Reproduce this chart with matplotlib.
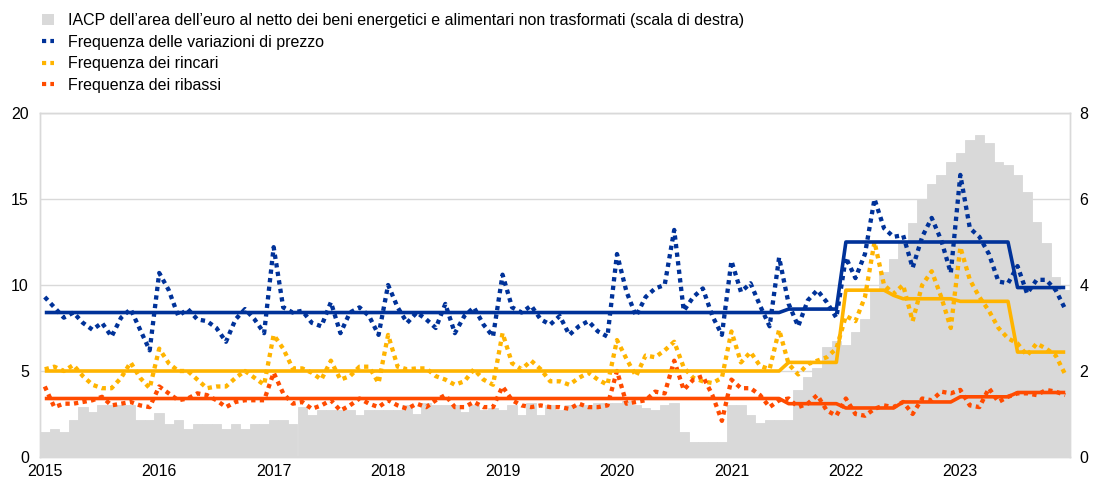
import numpy as np
import matplotlib
matplotlib.use("Agg")
import matplotlib.pyplot as plt
from matplotlib.lines import Line2D
from matplotlib.patches import Patch

plt.rcParams['font.family'] = ['Liberation Sans', 'DejaVu Sans']

years = [2015, 2016, 2017, 2018, 2019, 2020, 2021, 2022, 2023]

# Core HICP (annual %, right scale), monthly Jan 2015 - Dec 2023
core_hicp = [
    0.57, 0.65, 0.57, 0.86, 1.17, 1.05, 1.20, 1.20, 1.20, 1.20, 0.86, 0.86,
    1.02, 0.77, 0.86, 0.65, 0.77, 0.77, 0.77, 0.65, 0.77, 0.65, 0.77, 0.77,
    0.86, 0.86, 0.77, 1.17, 0.98, 1.10, 1.10, 1.10, 1.10, 0.98, 1.09, 1.09,
    1.10, 1.10, 1.20, 1.00, 1.25, 1.20, 1.20, 1.20, 1.05, 1.20, 1.10, 1.15,
    1.10, 1.20, 0.98, 1.25, 0.98, 1.20, 1.10, 1.20, 1.20, 1.20, 1.25, 1.25,
    1.25, 1.30, 1.20, 1.15, 1.10, 1.20, 1.25, 0.57, 0.36, 0.36, 0.36, 0.36,
    1.20, 1.20, 0.98, 0.78, 0.86, 0.86, 0.86, 1.56, 1.87, 2.06, 2.56, 2.70,
    2.60, 2.90, 3.20, 3.90, 4.30, 4.60, 5.00, 5.45, 6.00, 6.36, 6.56, 6.87,
    7.06, 7.37, 7.49, 7.30, 6.87, 6.79, 6.56, 6.17, 5.47, 4.97, 4.19, 3.88,
]

# Monthly frequencies (%)
freq_changes = [
    9.3, 8.7, 8.1, 8.4, 7.8, 7.4, 7.8, 7.0, 8.1, 8.6, 7.4, 6.2,
    10.7, 9.7, 8.2, 8.6, 8.0, 7.9, 7.5, 6.7, 8.0, 8.6, 8.0, 7.2,
    12.2, 8.7, 8.4, 8.5, 7.8, 7.6, 9.0, 7.2, 8.4, 8.7, 8.2, 7.1,
    10.0, 8.7, 7.8, 8.4, 8.0, 7.5, 8.9, 7.2, 8.2, 8.7, 7.7, 7.0,
    10.6, 8.7, 8.4, 8.8, 8.0, 7.7, 8.2, 7.1, 7.6, 7.9, 7.3, 7.0,
    11.8, 9.6, 8.2, 9.3, 9.8, 10.0, 13.2, 8.5, 9.3, 9.8, 8.2, 7.1,
    11.4, 9.6, 10.1, 8.8, 7.6, 11.6, 8.9, 7.6, 9.1, 9.7, 9.0, 8.1,
    11.6, 10.4, 11.8, 15.0, 13.3, 12.8, 12.9, 11.0, 12.8, 13.9, 12.6, 10.7,
    16.4, 13.3, 12.8, 11.8, 10.2, 10.1, 11.1, 9.5, 10.3, 10.3, 9.7, 8.6,
]
freq_increases = [
    5.1, 5.25, 5.0, 5.35, 4.7, 4.2, 4.0, 4.0, 4.6, 5.5, 4.6, 4.0,
    6.3, 5.45, 5.0, 5.0, 4.5, 4.0, 4.1, 4.1, 4.6, 5.0, 4.6, 4.2,
    7.1, 6.3, 5.15, 5.15, 4.9, 4.5, 5.6, 4.5, 4.7, 5.25, 5.25, 4.3,
    7.1, 5.25, 5.1, 5.15, 5.15, 4.7, 4.5, 4.2, 4.4, 5.1, 4.5, 4.2,
    7.2, 5.45, 5.1, 5.6, 5.1, 4.4, 4.4, 4.2, 4.6, 4.9, 4.5, 4.2,
    6.8, 5.7, 4.7, 5.9, 5.8, 6.2, 6.7, 5.2, 4.6, 4.4, 4.3, 4.6,
    7.3, 5.5, 6.1, 5.3, 5.1, 7.4, 5.4, 4.8, 5.4, 5.6, 5.8, 6.3,
    8.2, 7.9, 9.3, 12.5, 10.0, 9.5, 10.0, 7.9, 10.0, 10.8, 9.3, 7.5,
    12.2, 10.3, 9.3, 8.5, 7.5, 6.9, 6.6, 5.9, 6.6, 6.3, 5.9, 4.8,
]
freq_decreases = [
    4.1, 2.9, 3.1, 3.1, 3.2, 3.3, 3.5, 3.0, 3.1, 3.2, 3.0, 2.9,
    4.1, 3.7, 3.3, 3.4, 3.7, 3.6, 3.3, 2.9, 3.2, 3.3, 3.3, 3.3,
    4.9, 3.7, 3.1, 3.2, 2.8, 3.0, 3.3, 2.7, 3.0, 3.4, 3.1, 2.9,
    3.3, 3.0, 2.8, 3.1, 2.9, 3.3, 3.6, 2.9, 2.9, 3.2, 2.9, 2.9,
    4.1, 3.3, 3.0, 2.9, 3.0, 2.9, 2.9, 2.8, 3.1, 2.9, 2.9, 3.0,
    5.0, 3.1, 3.2, 3.3, 3.8, 3.7, 5.6, 3.9, 4.5, 4.7, 3.6, 2.1,
    4.5, 4.0, 4.0, 3.6, 2.9, 3.3, 3.4, 2.9, 3.1, 3.6, 2.7, 2.4,
    3.4, 2.5, 2.4, 2.8, 3.0, 2.9, 3.2, 2.5, 3.4, 3.3, 3.8, 3.7,
    3.9, 3.0, 2.9, 4.0, 3.2, 3.5, 3.7, 3.7, 3.6, 3.9, 3.8, 3.6,
]

# Period averages (%), one value per month
avg_changes = [8.4] * 78 + [8.6] * 6 + [12.5] * 18 + [9.85] * 6
avg_increases = [5.0] * 78 + [5.5] * 6 + [9.7] * 5 + [9.4] + [9.2] * 6 + [9.05] * 6 + [6.1] * 6
avg_decreases = [3.4] * 78 + [3.1] * 6 + [2.85] * 6 + [3.2] * 6 + [3.5] * 6 + [3.75] * 6

labels = [
    "IACP dell\u2019area dell\u2019euro al netto dei beni energetici e alimentari non trasformati (scala di destra)",
    "Frequenza delle variazioni di prezzo",
    "Frequenza dei rincari",
    "Frequenza dei ribassi",
]

BLUE = "#003299"
YELLOW = "#FFB400"
RED = "#FF4B00"
GREY = "#D9D9D9"
GRID = "#D9D9D9"

n = len(core_hicp)
x = np.arange(n) + 0.5

fig = plt.figure(figsize=(10.93, 4.86), dpi=100)
ax = fig.add_axes([40 / 1093, 29 / 486, 1030 / 1093, 344 / 486])
axr = ax.twinx()

# bars on the right-hand scale, kept behind the lines
axr.bar(x, core_hicp, width=1.0, color=GREY, edgecolor=GREY, linewidth=0.6, zorder=2)
axr.set_ylim(0, 8)
axr.set_yticks([0, 2, 4, 6, 8])
axr.grid(True, axis='both', which='major', color=GRID, linewidth=1.0, zorder=0)
axr.set_axisbelow(True)
ax.set_zorder(axr.get_zorder() + 1)
ax.patch.set_visible(False)

dot = (0, (1, 1))
lw_dot = 3.1
lw_solid = 2.6
ax.plot(x, freq_changes, color=BLUE, lw=lw_dot, linestyle=dot, dash_capstyle='butt', zorder=3)
ax.plot(x, freq_increases, color=YELLOW, lw=lw_dot, linestyle=dot, dash_capstyle='butt', zorder=3)
ax.plot(x, freq_decreases, color=RED, lw=lw_dot, linestyle=dot, dash_capstyle='butt', zorder=3)
ax.plot(x, avg_changes, color=BLUE, lw=lw_solid, solid_capstyle='butt', zorder=4)
ax.plot(x, avg_increases, color=YELLOW, lw=lw_solid, solid_capstyle='butt', zorder=4)
ax.plot(x, avg_decreases, color=RED, lw=lw_solid, solid_capstyle='butt', zorder=4)

ax.set_xlim(0, n)
ax.set_ylim(0, 20)
ax.set_yticks([0, 5, 10, 15, 20])
# year gridlines at each January, labels centred on the January month
ax.set_xticks([12 * k for k in range(len(years))])
ax.set_xticklabels([])
ax.set_xticks([12 * k + 0.5 for k in range(len(years))], minor=True)
ax.set_xticklabels([str(y) for y in years], minor=True)

for a in (ax, axr):
    a.tick_params(which='both', length=0, labelsize=11.5, colors='#000000')
    for s in a.spines.values():
        s.set_color(GRID)
        s.set_linewidth(1.0)
ax.tick_params(axis='y', pad=8)
axr.tick_params(axis='y', pad=7)
ax.tick_params(axis='x', which='both', pad=5)

handles = [
    Patch(facecolor=GREY, edgecolor='none'),
    Line2D([], [], color=BLUE, lw=3.0, linestyle=dot, dash_capstyle='butt'),
    Line2D([], [], color=YELLOW, lw=3.0, linestyle=dot, dash_capstyle='butt'),
    Line2D([], [], color=RED, lw=3.0, linestyle=dot, dash_capstyle='butt'),
]
fig.legend(handles, labels, loc='upper left', bbox_to_anchor=(42 / 1093, 1 - 13 / 486),
           frameon=False, fontsize=11.5, handlelength=0.75, handleheight=0.75,
           handletextpad=0.85, labelspacing=0.42, borderaxespad=0, borderpad=0)

fig.savefig("out.png", dpi=100)
